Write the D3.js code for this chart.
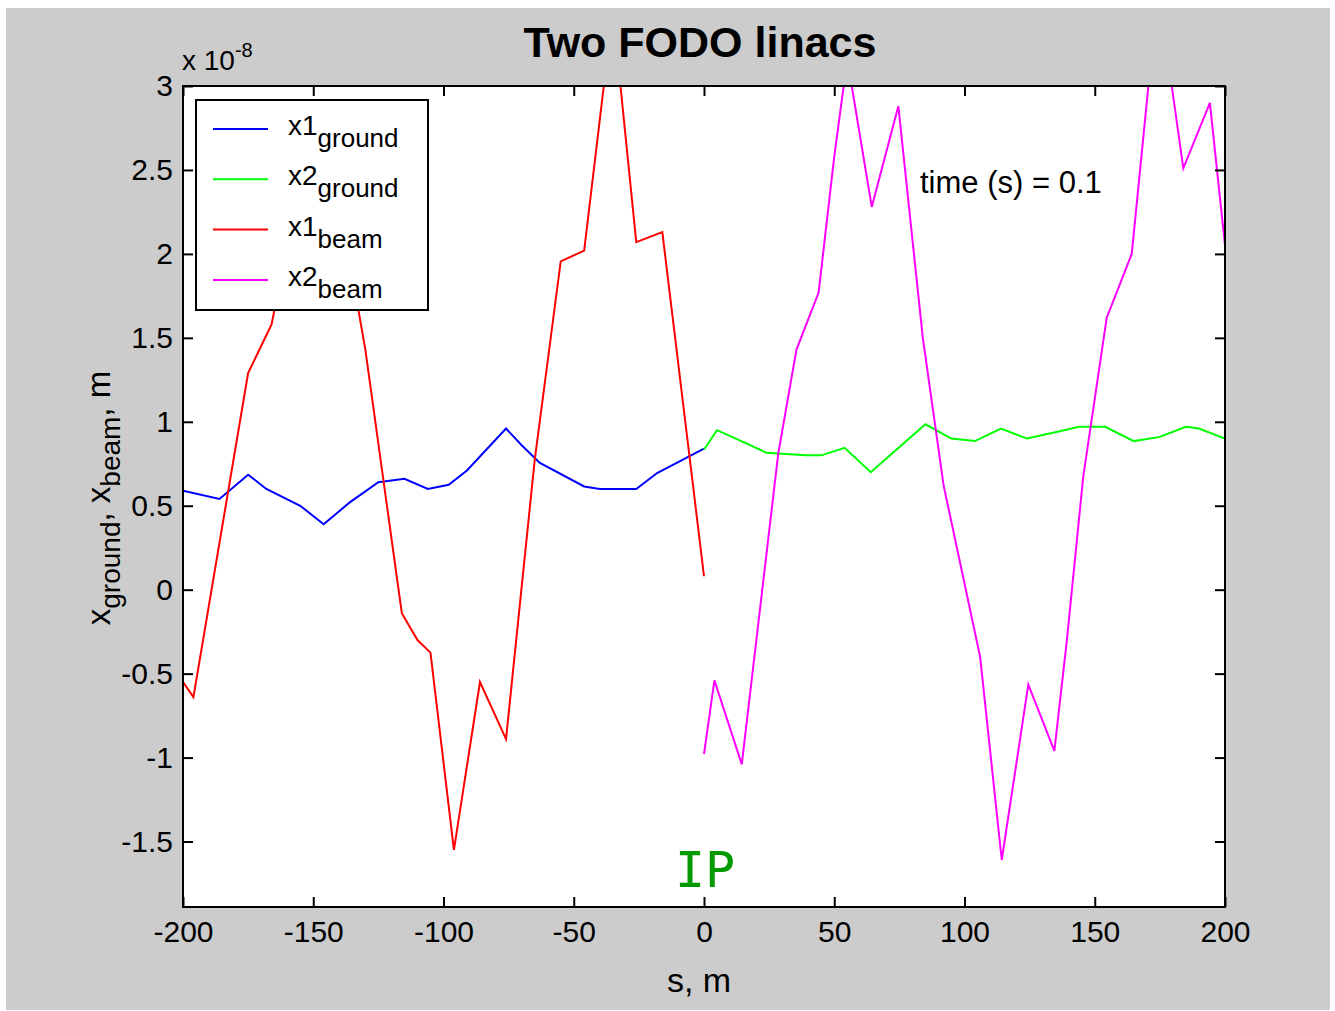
<!DOCTYPE html>
<html>
<head>
<meta charset="utf-8">
<script src="https://cdn.jsdelivr.net/npm/d3@7"></script>
<style>
  body { margin: 0; background: #fff; }
  text { font-family: "Liberation Sans", Arial, sans-serif; }
</style>
</head>
<body>
<script>
// values in units of 1e-8 m, s in metres
var x1Ground = [[-200,0.59],[-186,0.54],[-175,0.685],[-168,0.6],[-155,0.5],[-146,0.39],[-136,0.52],[-125,0.64],[-115,0.66],[-106,0.6],[-98,0.625],[-91,0.71],[-76,0.96],[-70,0.86],[-63,0.755],[-46,0.615],[-40,0.6],[-26,0.6],[-18,0.695],[0,0.84]]
var x2Ground = [[0,0.835],[5,0.95],[15,0.88],[24,0.815],[39,0.8],[45,0.8],[54,0.845],[64,0.7],[85,0.985],[95,0.9],[104,0.885],[114,0.96],[124,0.9],[137,0.945],[144,0.97],[154,0.97],[165,0.885],[175,0.91],[185,0.97],[190,0.96],[200,0.9]]
var x1Beam = [[-200,-0.55],[-196,-0.64],[-175,1.29],[-166,1.58],[-155,2.45],[-146,2.85],[-130,1.43],[-116,-0.14],[-110,-0.3],[-105,-0.375],[-96,-1.55],[-86,-0.55],[-76,-0.89],[-65,0.77],[-55,1.955],[-46,2.02],[-35,3.45],[-26,2.07],[-16,2.13],[0,0.08]]
var x2Beam = [[0,-0.98],[4,-0.54],[14.5,-1.04],[28.5,0.81],[35.5,1.43],[44,1.77],[50,2.58],[55,3.16],[64.4,2.28],[74.6,2.88],[84,1.5],[92,0.62],[106,-0.4],[114.3,-1.61],[124.5,-0.565],[134.5,-0.96],[139.3,-0.3],[145.6,0.675],[154.6,1.62],[164.2,2.0],[174.3,3.58],[184,2.51],[194.2,2.9],[200,2.05]]

var xTicks = [-200,-150,-100,-50,0,50,100,150,200]
var yTicks = [-1.5,-1,-0.5,0,0.5,1,1.5,2,2.5,3]

var series = [
  {name: 'x1', sub: 'ground', color: '#0000ff', data: x1Ground},
  {name: 'x2', sub: 'ground', color: '#00ff00', data: x2Ground},
  {name: 'x1', sub: 'beam', color: '#ff0000', data: x1Beam},
  {name: 'x2', sub: 'beam', color: '#ff00ff', data: x2Beam}
]

var W = 1335, H = 1011
  , axL = 183, axR = 1225, axT = 86, axB = 907

var svg = d3.select('body').append('svg').attr('width', W).attr('height', H)

svg.append('rect').attr('x', 6).attr('y', 8).attr('width', 1324).attr('height', 1002).attr('fill', '#cccccc')
svg.append('rect').attr('x', axL).attr('y', axT).attr('width', axR - axL).attr('height', axB - axT).attr('fill', '#fff')

var x = d3.scaleLinear().domain([-200, 200]).range([axL, axR])
var y = d3.scaleLinear().domain([-1.89, 3]).range([axB, axT])

svg.append('clipPath').attr('id', 'clip')
  .append('rect').attr('x', axL).attr('y', axT).attr('width', axR - axL).attr('height', axB - axT)

var line = d3.line().x(function(d){ return x(d[0]) }).y(function(d){ return y(d[1]) })

svg.append('g').attr('clip-path', 'url(#clip)')
  .selectAll('path').data(series).enter().append('path')
    .attr('d', function(d){ return line(d.data) })
    .attr('fill', 'none')
    .attr('stroke', function(d){ return d.color })
    .attr('stroke-width', 2)

// axes with inward ticks on all four sides
function styleAxis(g){
  g.select('.domain').remove()
  g.selectAll('line').attr('stroke', '#000').attr('stroke-width', 2)
  g.selectAll('text').attr('font-size', 30).attr('fill', '#000')
}
svg.append('g').attr('transform', 'translate(0,' + axB + ')')
  .call(d3.axisBottom(x).tickValues(xTicks).tickSize(-10).tickPadding(14).tickFormat(function(d){ return String(d) }))
  .call(styleAxis)
svg.append('g').attr('transform', 'translate(0,' + axT + ')')
  .call(d3.axisTop(x).tickValues(xTicks).tickSize(-10).tickFormat(''))
  .call(styleAxis)
svg.append('g').attr('transform', 'translate(' + axL + ',0)')
  .call(d3.axisLeft(y).tickValues(yTicks).tickSize(-10).tickPadding(10).tickFormat(function(d){ return String(d) }))
  .call(styleAxis)
svg.append('g').attr('transform', 'translate(' + axR + ',0)')
  .call(d3.axisRight(y).tickValues(yTicks).tickSize(-10).tickFormat(''))
  .call(styleAxis)

svg.append('rect').attr('x', axL).attr('y', axT).attr('width', axR - axL).attr('height', axB - axT)
  .attr('fill', 'none').attr('stroke', '#000').attr('stroke-width', 2)

// exponent
var ex = svg.append('text').attr('x', 182).attr('y', 70).attr('font-size', 28)
ex.append('tspan').text('x 10')
ex.append('tspan').attr('dy', -13).attr('font-size', 20).text('-8')

// title
svg.append('text').attr('x', 700).attr('y', 57).attr('text-anchor', 'middle')
  .attr('font-size', 43).attr('font-weight', 'bold').text('Two FODO linacs')

// x label
svg.append('text').attr('x', 699).attr('y', 992).attr('text-anchor', 'middle')
  .attr('font-size', 34).text('s, m')

// y label
var yl = svg.append('text').attr('transform', 'translate(110,498) rotate(-90)')
  .attr('text-anchor', 'middle').attr('font-size', 33)
yl.append('tspan').text('x')
yl.append('tspan').attr('dy', 10).attr('font-size', 28).text('ground')
yl.append('tspan').attr('dy', -10).text(', x')
yl.append('tspan').attr('dy', 10).attr('font-size', 28).text('beam')
yl.append('tspan').attr('dy', -10).text(', m')

// annotation
svg.append('text').attr('x', 920).attr('y', 193).attr('font-size', 31).text('time (s) = 0.1')

svg.append('text').attr('x', 705).attr('y', 887).attr('text-anchor', 'middle')
  .attr('font-size', 50).attr('fill', '#009900')
  .style('font-family', '"DejaVu Sans Mono", monospace').text('IP')

// legend
var lg = svg.append('g')
lg.append('rect').attr('x', 196).attr('y', 100).attr('width', 232).attr('height', 210)
  .attr('fill', '#fff').attr('stroke', '#000').attr('stroke-width', 2)
var items = lg.selectAll('g.item').data(series).enter().append('g').attr('class', 'item')
  .attr('transform', function(d, i){ return 'translate(0,' + (129 + i * 50.3) + ')' })
items.append('line').attr('x1', 213).attr('x2', 268)
  .attr('stroke', function(d){ return d.color }).attr('stroke-width', 2)
var lt = items.append('text').attr('x', 288).attr('y', 6).attr('font-size', 28)
lt.append('tspan').text(function(d){ return d.name })
lt.append('tspan').attr('dy', 12).attr('font-size', 26).text(function(d){ return d.sub })
</script>
</body>
</html>
